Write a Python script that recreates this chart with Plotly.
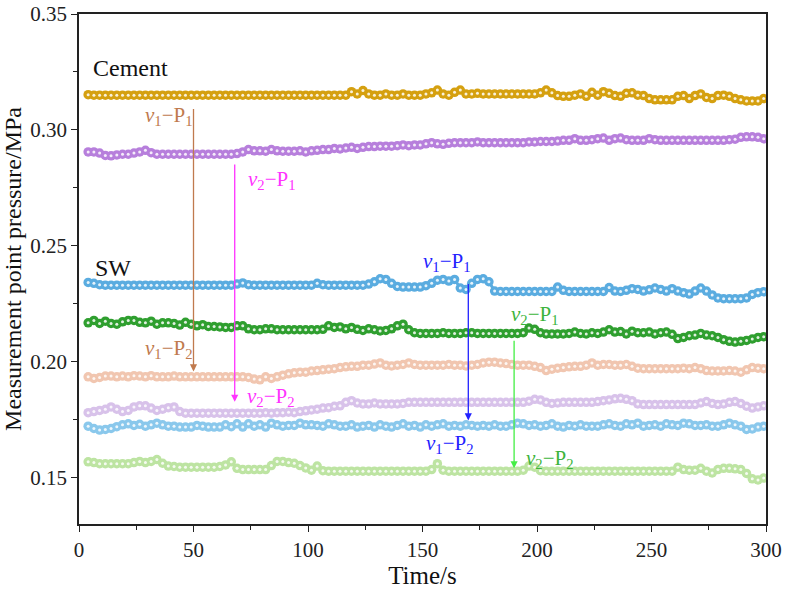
import plotly.graph_objects as go

TIME = [round(4 + 2.5 * i, 1) for i in range(119)]

CEMENT_V1_P1 = [
    0.3152, 0.315, 0.315, 0.315, 0.315, 0.315, 0.315, 0.315, 0.315, 0.315,
    0.315, 0.315, 0.315, 0.315, 0.315, 0.315, 0.315, 0.315, 0.315, 0.315,
    0.315, 0.315, 0.315, 0.315, 0.315, 0.315, 0.315, 0.315, 0.315, 0.315,
    0.315, 0.315, 0.315, 0.315, 0.315, 0.315, 0.315, 0.315, 0.315, 0.315,
    0.315, 0.315, 0.315, 0.315, 0.315, 0.315, 0.3165, 0.3155, 0.317, 0.3155,
    0.315, 0.315, 0.3155, 0.315, 0.315, 0.3155, 0.315, 0.315, 0.315, 0.3155,
    0.316, 0.3172, 0.3155, 0.315, 0.3162, 0.3172, 0.3155, 0.3155, 0.3158, 0.3155,
    0.3155, 0.3155, 0.3155, 0.3155, 0.3155, 0.3155, 0.3155, 0.3155, 0.3155, 0.316,
    0.3172, 0.316, 0.3148, 0.3145, 0.3145, 0.315, 0.3155, 0.3145, 0.3162, 0.315,
    0.3165, 0.3158, 0.3148, 0.3145, 0.3158, 0.316, 0.315, 0.3148, 0.3135, 0.313,
    0.313, 0.313, 0.313, 0.3145, 0.3148, 0.3135, 0.3148, 0.3155, 0.314, 0.3135,
    0.3148, 0.315, 0.3145, 0.3135, 0.313, 0.3125, 0.3125, 0.3125, 0.3135,
]

CEMENT_V2_P1 = [
    0.2905, 0.2905, 0.290, 0.289, 0.2888, 0.2892, 0.2895, 0.2895, 0.290, 0.2905,
    0.2912, 0.2902, 0.2895, 0.2895, 0.2895, 0.2895, 0.2895, 0.2895, 0.2895, 0.2895,
    0.2895, 0.2895, 0.2895, 0.2895, 0.2895, 0.2895, 0.2898, 0.2905, 0.2915, 0.291,
    0.291, 0.2908, 0.2915, 0.291, 0.2908, 0.2908, 0.2908, 0.291, 0.2905, 0.291,
    0.2912, 0.2915, 0.2915, 0.292, 0.2918, 0.2922, 0.2925, 0.292, 0.2925, 0.2928,
    0.2928, 0.293, 0.293, 0.293, 0.2932, 0.2935, 0.2932, 0.2935, 0.2935, 0.294,
    0.2945, 0.294, 0.2938, 0.2942, 0.2945, 0.2945, 0.2945, 0.2945, 0.2948, 0.2945,
    0.2945, 0.2945, 0.2945, 0.2945, 0.2945, 0.2945, 0.2945, 0.2948, 0.2948, 0.295,
    0.295, 0.295, 0.2952, 0.2955, 0.2955, 0.2962, 0.2955, 0.2955, 0.2958, 0.2962,
    0.2965, 0.2955, 0.2962, 0.2965, 0.2958, 0.2955, 0.2955, 0.2955, 0.2962, 0.2958,
    0.2955, 0.2955, 0.2955, 0.2955, 0.2955, 0.2955, 0.2955, 0.2955, 0.2955, 0.2955,
    0.2955, 0.2955, 0.2958, 0.296, 0.2968, 0.297, 0.297, 0.2968, 0.2962,
]

SW_V1_P1 = [
    0.2342, 0.2338, 0.2332, 0.233, 0.233, 0.233, 0.233, 0.233, 0.233, 0.233,
    0.233, 0.233, 0.233, 0.233, 0.233, 0.233, 0.233, 0.233, 0.233, 0.233,
    0.233, 0.233, 0.233, 0.233, 0.233, 0.233, 0.2335, 0.234, 0.2332, 0.233,
    0.233, 0.233, 0.233, 0.233, 0.233, 0.233, 0.233, 0.233, 0.233, 0.233,
    0.2338, 0.2332, 0.233, 0.233, 0.233, 0.233, 0.233, 0.233, 0.233, 0.2335,
    0.2345, 0.2358, 0.2355, 0.2338, 0.2325, 0.2322, 0.2322, 0.2322, 0.2322, 0.2328,
    0.2338, 0.2352, 0.2355, 0.2348, 0.2355, 0.2318, 0.2312, 0.2338, 0.2355, 0.2358,
    0.2345, 0.2305, 0.2303, 0.2303, 0.2303, 0.2303, 0.2303, 0.2303, 0.2303, 0.2303,
    0.2303, 0.2303, 0.2322, 0.2308, 0.2303, 0.2303, 0.2303, 0.2303, 0.2303, 0.2303,
    0.2303, 0.232, 0.2305, 0.2303, 0.2308, 0.2315, 0.2312, 0.2305, 0.231, 0.2318,
    0.2312, 0.2305, 0.2315, 0.2305, 0.2298, 0.2292, 0.2305, 0.2318, 0.2305, 0.2288,
    0.2275, 0.2272, 0.2272, 0.2272, 0.2272, 0.2275, 0.229, 0.2298, 0.2302,
]

SW_V2_P1 = [
    0.2168, 0.2178, 0.2165, 0.2175, 0.2165, 0.2162, 0.2172, 0.2178, 0.2178, 0.217,
    0.2168, 0.2175, 0.2162, 0.2168, 0.2168, 0.2165, 0.2158, 0.217, 0.2162, 0.2155,
    0.216, 0.2152, 0.2152, 0.215, 0.2148, 0.2148, 0.2155, 0.2155, 0.2142, 0.2138,
    0.2138, 0.2142, 0.2142, 0.2138, 0.2138, 0.2138, 0.2138, 0.2138, 0.2138, 0.2138,
    0.2138, 0.214, 0.2155, 0.2148, 0.215, 0.2142, 0.2148, 0.214, 0.2135, 0.2142,
    0.2138, 0.2133, 0.2135, 0.2142, 0.2155, 0.2162, 0.2138, 0.2125, 0.2122, 0.2122,
    0.2122, 0.2122, 0.2125, 0.2122, 0.2122, 0.2122, 0.2125, 0.2125, 0.2122, 0.2122,
    0.2122, 0.2122, 0.2122, 0.2122, 0.2122, 0.2122, 0.2125, 0.2145, 0.214, 0.2125,
    0.212, 0.212, 0.212, 0.212, 0.2122, 0.2128, 0.2122, 0.212, 0.2125, 0.2122,
    0.2128, 0.2138, 0.2128, 0.213, 0.212, 0.2132, 0.2125, 0.2125, 0.2128, 0.212,
    0.2125, 0.2128, 0.2118, 0.21, 0.2105, 0.2112, 0.2115, 0.2122, 0.2115, 0.2112,
    0.2105, 0.2095, 0.2088, 0.2085, 0.2088, 0.2092, 0.2098, 0.2105, 0.2108,
]

CEMENT_V1_P2 = [
    0.1935, 0.1928, 0.1932, 0.1938, 0.1938, 0.1935, 0.1938, 0.1935, 0.194, 0.1938,
    0.1935, 0.194, 0.1935, 0.1935, 0.1935, 0.1938, 0.1935, 0.1935, 0.1935, 0.1935,
    0.1935, 0.1935, 0.1935, 0.1935, 0.1935, 0.1935, 0.1935, 0.1935, 0.1932, 0.1925,
    0.1922, 0.1935, 0.1928, 0.1935, 0.1942, 0.1948, 0.1952, 0.1955, 0.1955, 0.196,
    0.1962, 0.1965, 0.1968, 0.197, 0.1975, 0.1978, 0.198, 0.198, 0.1985, 0.1985,
    0.199, 0.1995, 0.1985, 0.1982, 0.1985, 0.1988, 0.1995, 0.1988, 0.1985, 0.1985,
    0.1985, 0.1985, 0.1985, 0.1988, 0.1985, 0.1985, 0.1982, 0.1985, 0.1988, 0.1995,
    0.1998, 0.1998, 0.1995, 0.1992, 0.1988, 0.1985, 0.1985, 0.1985, 0.198, 0.1975,
    0.1962, 0.1968, 0.1972, 0.1975, 0.1978, 0.198, 0.198, 0.1985, 0.1995, 0.1985,
    0.1988, 0.1988, 0.1985, 0.1985, 0.1988, 0.198, 0.1972, 0.197, 0.197, 0.197,
    0.197, 0.197, 0.197, 0.197, 0.1972, 0.197, 0.1975, 0.197, 0.1962, 0.196,
    0.196, 0.196, 0.1962, 0.196, 0.1955, 0.1965, 0.1975, 0.1972, 0.197,
]

CEMENT_V2_P2 = [
    0.178, 0.1785, 0.179, 0.1795, 0.1805, 0.1795, 0.1785, 0.179, 0.1805, 0.181,
    0.181, 0.180, 0.179, 0.1795, 0.1802, 0.1805, 0.1785, 0.1778, 0.1778, 0.1778,
    0.1778, 0.1778, 0.1778, 0.1778, 0.1778, 0.1778, 0.1778, 0.1778, 0.1778, 0.1778,
    0.1778, 0.178, 0.1778, 0.178, 0.178, 0.1782, 0.178, 0.1785, 0.1788, 0.1792,
    0.1795, 0.180, 0.1802, 0.1808, 0.181, 0.1825, 0.1832, 0.1822, 0.1818, 0.1818,
    0.1822, 0.1818, 0.1818, 0.1818, 0.1818, 0.182, 0.1825, 0.1825, 0.1825, 0.1825,
    0.1825, 0.1825, 0.1825, 0.1825, 0.1825, 0.1825, 0.1825, 0.1825, 0.1825, 0.1825,
    0.1825, 0.1825, 0.1825, 0.1825, 0.1825, 0.1825, 0.1825, 0.183, 0.1838, 0.1835,
    0.1825, 0.182, 0.1822, 0.1825, 0.1825, 0.1825, 0.1825, 0.1825, 0.1825, 0.1828,
    0.1832, 0.1835, 0.184, 0.1842, 0.1838, 0.1832, 0.1818, 0.1815, 0.1815, 0.1815,
    0.1815, 0.1815, 0.1815, 0.1815, 0.1815, 0.1815, 0.1815, 0.1822, 0.1828, 0.182,
    0.1815, 0.1818, 0.1825, 0.1828, 0.182, 0.1808, 0.180, 0.1805, 0.181,
]

SW_V1_P2 = [
    0.1722, 0.1712, 0.1705, 0.1708, 0.1712, 0.172, 0.1728, 0.1732, 0.1725, 0.173,
    0.1722, 0.1728, 0.1735, 0.1728, 0.1722, 0.1722, 0.1718, 0.1718, 0.1718, 0.1725,
    0.1722, 0.1718, 0.1718, 0.1718, 0.1728, 0.172, 0.1732, 0.1718, 0.1732, 0.1722,
    0.1728, 0.1718, 0.1735, 0.1728, 0.1722, 0.1725, 0.1725, 0.1735, 0.1728, 0.1728,
    0.1725, 0.1722, 0.1732, 0.1728, 0.1722, 0.1722, 0.1728, 0.1718, 0.1722, 0.1725,
    0.1718, 0.1728, 0.1722, 0.1718, 0.1725, 0.1732, 0.1722, 0.1725, 0.1718, 0.1728,
    0.1722, 0.1728, 0.1732, 0.1722, 0.1725, 0.1722, 0.1728, 0.1725, 0.1722, 0.1725,
    0.1722, 0.1728, 0.1722, 0.1722, 0.1728, 0.1735, 0.1732, 0.1725, 0.1728, 0.1722,
    0.1725, 0.1732, 0.1722, 0.1718, 0.1725, 0.1722, 0.1728, 0.1722, 0.1722, 0.1722,
    0.1728, 0.1732, 0.1725, 0.1722, 0.1732, 0.1728, 0.1735, 0.1722, 0.1725, 0.1728,
    0.1722, 0.1732, 0.1728, 0.1725, 0.1735, 0.1732, 0.1725, 0.1725, 0.1728, 0.1722,
    0.1722, 0.1728, 0.1735, 0.1728, 0.1722, 0.1708, 0.171, 0.1718, 0.1722,
]

SW_V2_P2 = [
    0.1568, 0.1565, 0.156, 0.156, 0.156, 0.156, 0.156, 0.156, 0.1565, 0.157,
    0.1565, 0.157, 0.1578, 0.1562, 0.155, 0.1548, 0.1545, 0.1545, 0.1545, 0.1545,
    0.1545, 0.1545, 0.1545, 0.1548, 0.1555, 0.1568, 0.154, 0.1535, 0.1535, 0.1535,
    0.1535, 0.1535, 0.1552, 0.157, 0.157, 0.1565, 0.1562, 0.1552, 0.1542, 0.1532,
    0.155, 0.153, 0.1528, 0.1528, 0.1528, 0.1528, 0.1528, 0.1528, 0.1528, 0.1528,
    0.1528, 0.1528, 0.1528, 0.1528, 0.1528, 0.1528, 0.1528, 0.1528, 0.1528, 0.1528,
    0.1535, 0.156, 0.1532, 0.1528, 0.1528, 0.1528, 0.1528, 0.1528, 0.1528, 0.1528,
    0.1528, 0.1528, 0.1528, 0.1528, 0.1528, 0.1528, 0.1532, 0.155, 0.1545, 0.153,
    0.1528, 0.1528, 0.1528, 0.1528, 0.1528, 0.1528, 0.1528, 0.1528, 0.1528, 0.1528,
    0.1528, 0.1528, 0.1528, 0.1528, 0.1528, 0.1528, 0.1528, 0.1528, 0.1528, 0.1528,
    0.1528, 0.1528, 0.1528, 0.1545, 0.1535, 0.1532, 0.1532, 0.154, 0.1528, 0.152,
    0.1535, 0.154, 0.154, 0.1538, 0.1535, 0.1518, 0.1495, 0.149, 0.1498,
]

SERIES = [
    ("Cement v1-P1", CEMENT_V1_P1, "#d5a010"),
    ("Cement v2-P1", CEMENT_V2_P1, "#b77fdc"),
    ("SW v1-P1", SW_V1_P1, "#5aace0"),
    ("SW v2-P1", SW_V2_P1, "#2f9f2f"),
    ("Cement v1-P2", CEMENT_V1_P2, "#f1c6b0"),
    ("Cement v2-P2", CEMENT_V2_P2, "#d8c2ea"),
    ("SW v1-P2", SW_V1_P2, "#8ac8ec"),
    ("SW v2-P2", SW_V2_P2, "#bde4a2"),
]

FONT = "Liberation Serif, Times New Roman, serif"

fig = go.Figure()
for name, vals, col in SERIES:
    fig.add_trace(go.Scatter(
        x=TIME, y=vals, mode="lines+markers", name=name,
        line=dict(color=col, width=3),
        marker=dict(symbol="circle", size=9.5, color=col, line=dict(width=0)),
        showlegend=False, hoverinfo="skip",
    ))
    fig.add_trace(go.Scatter(
        x=TIME, y=vals, mode="markers", showlegend=False, hoverinfo="skip",
        marker=dict(symbol="circle", size=3, color="rgba(255,255,255,0.85)", line=dict(width=0)),
    ))

# arrows: (x, y_start, y_end, color)
ARROWS = [
    (50, 0.3097, 0.1958, "#c07a4e"),
    (68, 0.2857, 0.1827, "#ff33ff"),
    (170, 0.2342, 0.1747, "#2222ff"),
    (190, 0.2097, 0.1540, "#44ee44"),
]
for ax_, y0, y1, col in ARROWS:
    fig.add_annotation(
        x=ax_, y=y1, ax=ax_, ay=y0, xref="x", yref="y", axref="x", ayref="y",
        showarrow=True, arrowhead=2, arrowsize=1.1, arrowwidth=1.3, arrowcolor=col, text="",
    )

LABELS = [
    (39.5, 0.3062, "<i>v</i><sub>1</sub>−P<sub>1</sub>", "#c07a4e"),
    (39.5, 0.2055, "<i>v</i><sub>1</sub>−P<sub>2</sub>", "#c07a4e"),
    (84.3, 0.2784, "<i>v</i><sub>2</sub>−P<sub>1</sub>", "#ff33ff"),
    (84, 0.1848, "<i>v</i><sub>2</sub>−P<sub>2</sub>", "#ff33ff"),
    (160.7, 0.2432, "<i>v</i><sub>1</sub>−P<sub>1</sub>", "#2222ff"),
    (162, 0.1647, "<i>v</i><sub>1</sub>−P<sub>2</sub>", "#2222ff"),
    (199, 0.2200, "<i>v</i><sub>2</sub>−P<sub>1</sub>", "#3cb43c"),
    (205.7, 0.1582, "<i>v</i><sub>2</sub>−P<sub>2</sub>", "#3cb43c"),
]
for x, y, txt, col in LABELS:
    fig.add_annotation(x=x, y=y, xref="x", yref="y", text=txt, showarrow=False,
                       font=dict(family=FONT, size=21, color=col))

fig.add_annotation(x=22.7, y=0.3268, xref="x", yref="y", text="Cement", showarrow=False,
                   font=dict(family=FONT, size=24, color="#111111"))
fig.add_annotation(x=15, y=0.2406, xref="x", yref="y", text="SW", showarrow=False,
                   font=dict(family=FONT, size=24, color="#111111"))

axis_common = dict(
    showgrid=False, zeroline=False, showline=True, linecolor="#222222", linewidth=1.5,
    mirror=True, ticks="outside", ticklen=6, tickwidth=1.3, tickcolor="#222222",
    tickfont=dict(family=FONT, size=21, color="#222222"), automargin=False,
    minor=dict(ticks="outside", ticklen=4, tickwidth=1.2, tickcolor="#222222"),
)

fig.update_xaxes(
    range=[0, 300], tickvals=[0, 50, 100, 150, 200, 250, 300],
    minor_tickvals=[25, 75, 125, 175, 225, 275],
    title=dict(text="Time/s", font=dict(family=FONT, size=25, color="#111111"), standoff=4),
    **axis_common,
)
fig.update_yaxes(
    range=[0.13, 0.35], tickvals=[0.15, 0.20, 0.25, 0.30, 0.35], tickformat=".2f",
    minor_tickvals=[0.175, 0.225, 0.275, 0.325],
    title=dict(text="Measurement point pressure/MPa", font=dict(family=FONT, size=24, color="#111111"), standoff=6),
    **axis_common,
)

fig.update_layout(
    width=785, height=590,
    margin=dict(l=79, r=19, t=14, b=66),
    plot_bgcolor="white", paper_bgcolor="white",
)

fig.write_html("out.html")
